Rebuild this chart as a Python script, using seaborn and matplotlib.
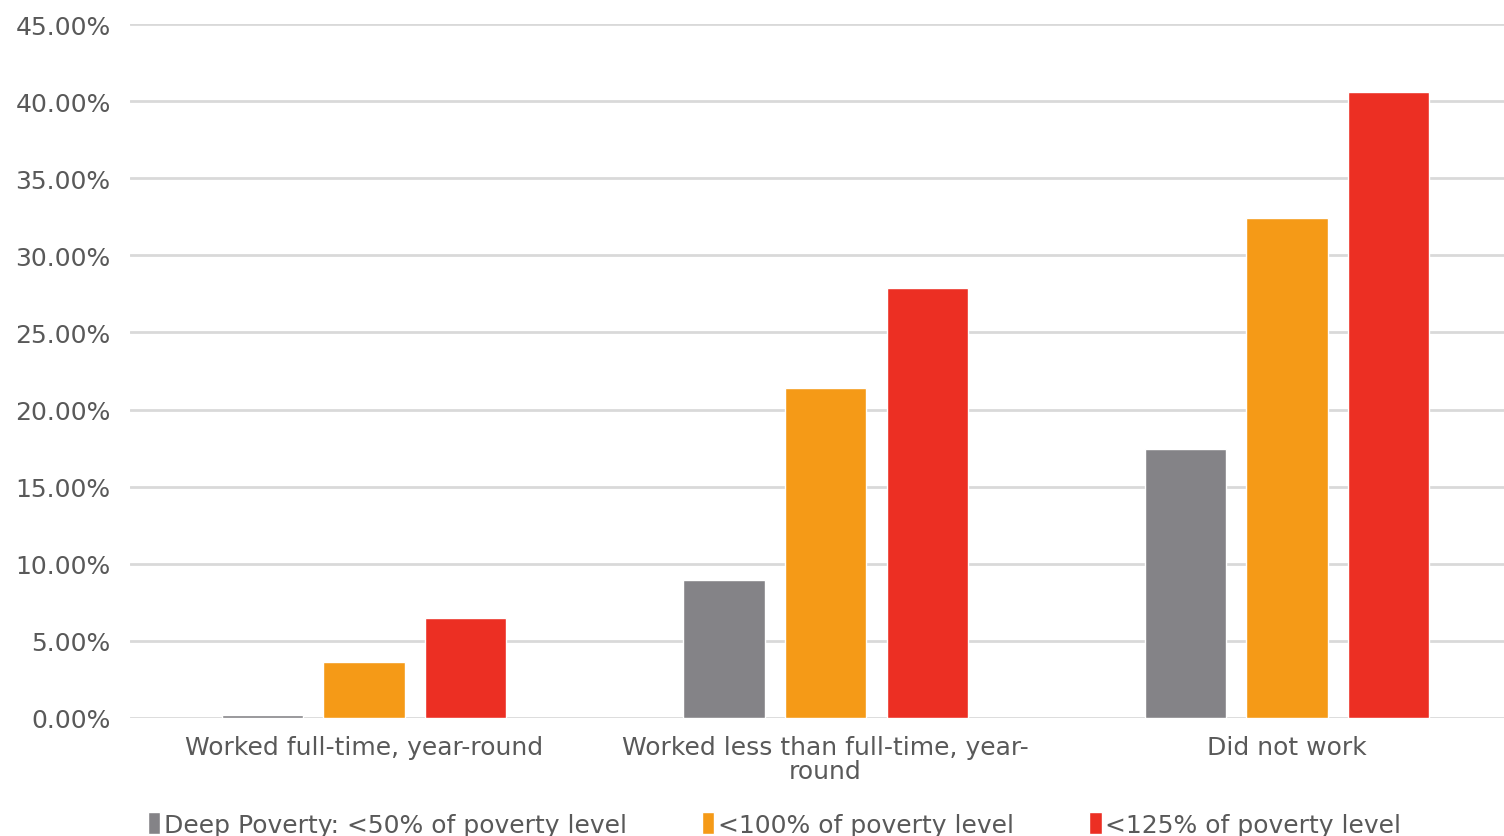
import pandas as pd
import seaborn as sns
import matplotlib.pyplot as plt
from matplotlib.ticker import FuncFormatter

# data (percent of group)
work_status = ['Worked full-time, year-round',
               'Worked less than full-time, year-\nround',
               'Did not work']
levels = ['Deep Poverty: <50% of poverty level',
          '<100% of poverty level',
          '<125% of poverty level']
deep_poverty = [0.2, 8.95, 17.45]
below_100 = [3.6, 21.4, 32.4]
below_125 = [6.5, 27.9, 40.6]
colors = ['#848387', '#F59A17', '#EC2F23']

rows = []
for vals, lvl in zip([deep_poverty, below_100, below_125], levels):
    for ws, v in zip(work_status, vals):
        rows.append({'status': ws, 'level': lvl, 'pct': v})
df = pd.DataFrame(rows)

sns.set_style('white')
plt.rcParams['font.family'] = ['DejaVu Sans']

fig = plt.figure(figsize=(15.04, 8.37), dpi=100)
ax = fig.add_axes([0.0865, 0.141, 0.9135, 0.829])

sns.barplot(data=df, x='status', y='pct', hue='level', order=work_status,
            hue_order=levels, palette=colors, width=0.66, gap=0.2,
            saturation=1, ax=ax)

ax.set_ylim(0, 45)
ax.set_xlim(-0.507, 2.47)
ax.set_yticks(range(0, 46, 5))
ax.yaxis.set_major_formatter(FuncFormatter(lambda v, p: f'{v:.2f}%'))
ax.grid(axis='y', color='#D9D9D9', linewidth=2)
ax.set_axisbelow(True)
for s in ax.spines.values():
    s.set_visible(False)
ax.tick_params(axis='both', length=0, labelsize=18, labelcolor='#595959')
ax.tick_params(axis='y', pad=14)
ax.tick_params(axis='x', pad=12)
for lab in ax.get_xticklabels():
    lab.set_linespacing(1.0)
ax.set_xlabel('')
ax.set_ylabel('')

handles, labels = ax.get_legend_handles_labels()
ax.legend_.remove()
fig.legend(handles, labels, loc='center', bbox_to_anchor=(0.515, 0.014),
           ncol=3, frameon=False, fontsize=18, labelcolor='#595959',
           handlelength=0.5, handleheight=1.0, handletextpad=0.15,
           columnspacing=3.0)

fig.savefig('out.png', dpi=100)
